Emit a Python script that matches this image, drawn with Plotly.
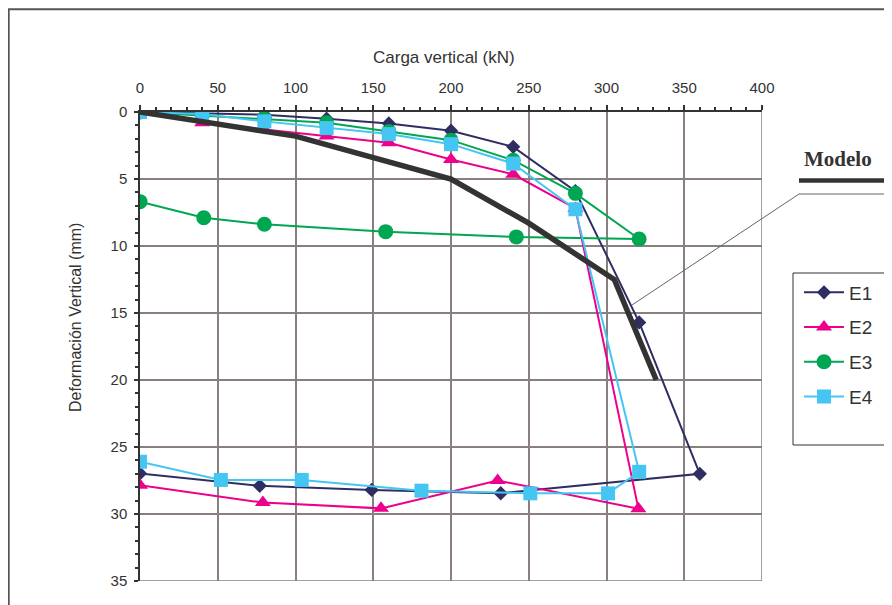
import plotly.graph_objects as go

# ---- data (kN, mm) ----
e1_x = [0, 40, 80, 120, 160, 200, 240, 280, 321, 360, 232, 149, 77, 0]
e1_y = [0, 0.1, 0.2, 0.5, 0.85, 1.4, 2.6, 5.9, 15.7, 27.0, 28.45, 28.2, 27.9, 26.97]

e2_x = [0, 40, 80, 120, 160, 200, 240, 280, 320.5, 230, 155, 79, 0]
e2_y = [0, 0.8, 1.3, 1.8, 2.3, 3.55, 4.65, 7.2, 29.6, 27.5, 29.58, 29.15, 27.85]

e3_x = [0, 40, 80, 120, 160, 200, 240, 280, 321, 242, 158, 80, 41, 0]
e3_y = [0, 0.25, 0.5, 0.8, 1.45, 2.1, 3.6, 6.07, 9.48, 9.32, 8.93, 8.38, 7.89, 6.69]

e4_x = [0, 40, 80, 120, 160, 200, 240, 280, 321, 301, 251, 181, 104, 52, 0]
e4_y = [0, 0.15, 0.7, 1.2, 1.65, 2.4, 3.85, 7.26, 26.85, 28.46, 28.46, 28.26, 27.46, 27.46, 26.1]

model_x = [0, 100, 200, 250, 305, 332]
model_y = [0, 1.8, 5.0, 8.3, 12.5, 20.0]

x_ticks = [0, 50, 100, 150, 200, 250, 300, 350, 400]
y_ticks = [0, 5, 10, 15, 20, 25, 30, 35]

series = [
    ("E1", e1_x, e1_y, "#2E2E63", "diamond", 11),
    ("E2", e2_x, e2_y, "#EC008C", "triangle-up", 14),
    ("E3", e3_x, e3_y, "#00A651", "circle", 15),
    ("E4", e4_x, e4_y, "#45C6F2", "square", 14),
]

FONT = "Liberation Sans, Arial, sans-serif"
fig = go.Figure()
for name, xs, ys, col, sym, sz in series:
    fig.add_trace(go.Scatter(
        x=xs, y=ys, name=name, mode="lines+markers",
        line=dict(color=col, width=2),
        marker=dict(symbol=sym, size=sz, color=col, line=dict(width=0)),
        legendgroup=name,
    ))
fig.add_trace(go.Scatter(
    x=model_x, y=model_y, name="Modelo", mode="lines",
    line=dict(color="#333333", width=5.5), showlegend=False,
))

# plot area in page pixels; page has an 8px body margin
OFF = 8
L, R, T, B = 140, 762, 112, 581
W, H = 892, 605
PW, PH = R - L, B - T


def px(xp):
    return (xp - L) / PW


def py(yp):
    return 1 - (yp - T) / PH


grid_col = "#8a7f7f"
fig.update_xaxes(
    range=[0, 400], side="top", tickvals=x_ticks,
    showgrid=True, gridcolor=grid_col, gridwidth=1.5,
    showline=True, linecolor="#333333", linewidth=1.5,
    ticks="outside", ticklen=5, tickcolor="#333333", tickwidth=1.5,
    minor=dict(dtick=10, ticks="outside", ticklen=3, tickcolor="#333333", showgrid=False),
    tickfont=dict(family=FONT, size=15, color="#333333"),
    ticklabelstandoff=6, zeroline=False,
)
fig.update_yaxes(
    range=[35, 0], tickvals=y_ticks,
    showgrid=True, gridcolor=grid_col, gridwidth=1.5,
    showline=True, linecolor="#333333", linewidth=1.5,
    ticks="outside", ticklen=4, tickcolor="#333333", tickwidth=1.5,
    minor=dict(dtick=1, ticks="outside", ticklen=3, tickcolor="#333333", showgrid=False),
    tickfont=dict(family=FONT, size=15, color="#333333"),
    ticklabelstandoff=4, zeroline=False,
)

shapes = [
    # outer frame
    dict(type="rect", xref="paper", yref="paper", x0=px(8.7), x1=px(1000), y0=py(9.2), y1=py(800),
         line=dict(color="#555555", width=2), fillcolor="rgba(0,0,0,0)", layer="below"),
    # grid lines on the far edges of the plot area
    dict(type="line", xref="x", yref="paper", x0=x_ticks[-1], x1=x_ticks[-1], y0=0, y1=1,
         line=dict(color=grid_col, width=1.5), layer="below"),
    dict(type="line", xref="paper", yref="y", x0=0, x1=1, y0=y_ticks[-1], y1=y_ticks[-1],
         line=dict(color=grid_col, width=1.5), layer="below"),
    # legend box
    dict(type="rect", xref="paper", yref="paper", x0=px(793), x1=px(1000), y0=py(273), y1=py(445),
         line=dict(color="#333333", width=1), fillcolor="white", layer="below"),
    # Modelo thick bar
    dict(type="line", xref="paper", yref="paper", x0=px(799), x1=px(885), y0=py(180.5), y1=py(180.5),
         line=dict(color="#333333", width=4.5)),
    # leader line
    dict(type="path", xref="paper", yref="paper",
         path=f"M {px(632)} {py(305)} L {px(799)} {py(194)} L {px(885)} {py(194)}",
         line=dict(color="#666666", width=1)),
]

annotations = [
    dict(text="Carga vertical (kN)", xref="paper", yref="paper", x=px(444), y=py(57),
         showarrow=False, font=dict(family=FONT, size=17, color="#333333"),
         xanchor="center", yanchor="middle"),
    dict(text="Deformación Vertical (mm)", xref="paper", yref="paper", x=px(75), y=py(318),
         showarrow=False, textangle=-90, font=dict(family=FONT, size=16, color="#333333"),
         xanchor="center", yanchor="middle"),
    dict(text="<b>Modelo</b>", xref="paper", yref="paper", x=px(838), y=py(159),
         showarrow=False, font=dict(family="Liberation Serif, Times New Roman, serif", size=21, color="#333333"),
         xanchor="center", yanchor="middle"),
]

fig.update_layout(
    width=W, height=H,
    margin=dict(l=L - OFF, r=W - (R - OFF), t=T - OFF, b=H - (B - OFF), pad=0),
    paper_bgcolor="white", plot_bgcolor="white",
    shapes=shapes, annotations=annotations,
    showlegend=True,
    legend=dict(
        x=px(799), y=py(273.5), xanchor="left", yanchor="top",
        bgcolor="rgba(0,0,0,0)", borderwidth=0,
        font=dict(family=FONT, size=19, color="#333333"),
        tracegroupgap=7, itemwidth=40,
    ),
)

fig.write_html("out.html")
